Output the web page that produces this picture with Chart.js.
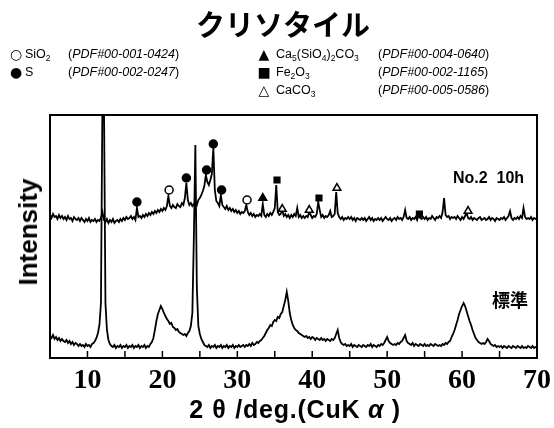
<!DOCTYPE html>
<html lang="ja">
<head>
<meta charset="utf-8">
<title>クリソタイル XRD</title>
<script src="https://cdn.jsdelivr.net/npm/chart.js@4.4.1/dist/chart.umd.min.js"></script>
<style>
    html, body { margin: 0; padding: 0; background: #fff; }
    #wrap { position: relative; width: 554px; height: 428px; overflow: hidden; color: #000;
            font-family: "Liberation Sans", Arial, sans-serif; }
    #xrdChart { position: absolute; left: 0; top: 0; }
    .abs { position: absolute; white-space: nowrap; line-height: 1; }
    #title { left: 6px; width: 554px; top: 9px; text-align: center; font-family: "Noto Sans CJK JP";
             font-weight: bold; font-size: 29px; }
    .leg { font-size: 12.5px; transform: translateY(-50%); }
    .sym { font-family: "DejaVu Sans"; font-size: 14px; transform: translate(-50%, -50%); }
    .leg sub { font-size: 8.5px; vertical-align: -3px; line-height: 0; }
    #yTitle { left: 28px; top: 232px; font-size: 26px; font-weight: bold;
              transform: translate(-50%, -50%) rotate(-90deg); }
    #xTitle { left: 0; width: 590px; top: 397px; text-align: center; font-size: 25px; font-weight: bold;
              letter-spacing: 0.8px; }
    #xTitle .g { display: inline-block; width: 1.25em; text-align: center; }
    #lblNo2 { left: 453px; top: 170px; font-size: 16px; font-weight: bold; }
    #lblStd { left: 492px; top: 290px; font-size: 18px; font-weight: bold; font-family: "Noto Sans CJK JP"; }
</style>
</head>
<body>
<div id="wrap">
    <canvas id="xrdChart" width="554" height="428"></canvas>

    <div id="title" class="abs">クリソタイル</div>

    <!-- legend, left column -->
    <div class="abs sym" style="left:16px; top:54px;">○</div>
    <div class="abs leg" style="left:25px; top:54px;">SiO<sub>2</sub></div>
    <div class="abs leg" style="left:68px; top:54px;">(<i>PDF#00-001-0424</i>)</div>
    <div class="abs sym" style="left:16px; top:72px;">●</div>
    <div class="abs leg" style="left:25px; top:72px;">S</div>
    <div class="abs leg" style="left:68px; top:72px;">(<i>PDF#00-002-0247</i>)</div>

    <!-- legend, right column -->
    <div class="abs sym" style="left:264px; top:54px;">▲</div>
    <div class="abs leg" style="left:276px; top:54px;">Ca<sub>5</sub>(SiO<sub>4</sub>)<sub>2</sub>CO<sub>3</sub></div>
    <div class="abs leg" style="left:378px; top:54px;">(<i>PDF#00-004-0640</i>)</div>
    <div class="abs sym" style="left:264px; top:72px;">■</div>
    <div class="abs leg" style="left:276px; top:72px;">Fe<sub>2</sub>O<sub>3</sub></div>
    <div class="abs leg" style="left:378px; top:72px;">(<i>PDF#00-002-1165</i>)</div>
    <div class="abs sym" style="left:264px; top:90px;">△</div>
    <div class="abs leg" style="left:276px; top:90px;">CaCO<sub>3</sub></div>
    <div class="abs leg" style="left:378px; top:90px;">(<i>PDF#00-005-0586</i>)</div>

    <div id="lblNo2" class="abs">No.2&nbsp;&nbsp;10h</div>
    <div id="lblStd" class="abs">標準</div>

    <div id="yTitle" class="abs">Intensity</div>
    <div id="xTitle" class="abs">2<span class="g">θ</span>/deg.(CuK<span class="g"><i>α</i></span>)</div>
</div>

<script>
// 2theta grid: 5.0 .. 70.0 deg, 0.2 deg step
const THETA_START = 5;
const THETA_STEP = 0.2;

// No.2 10h (upper pattern), one row = 2 deg
const intensityNo2 = [
    143,140,144,141,142,139,143,140,142,139,
    141,138,142,139,140,137,141,139,138,140,
    137,140,138,136,139,137,140,136,138,137,
    139,136,138,137,140,146,138,136,139,135,
    138,136,139,135,137,138,136,139,137,140,
    138,141,139,140,142,139,141,138,150,141,
    142,140,143,141,144,142,145,143,146,144,
    147,145,148,146,149,147,150,148,152,162,
    152,150,153,151,150,154,152,151,155,153,
    160,175,158,153,155,152,154,156,153,158,
    160,163,167,172,183,176,173,178,184,210,
    168,157,155,152,163,153,151,149,152,148,
    150,147,149,146,148,145,147,144,146,145,
    147,153,146,143,145,142,144,141,143,142,
    144,142,154,143,141,144,142,145,143,146,
    150,173,146,143,144,148,142,144,141,143,
    140,143,141,144,142,150,141,143,140,142,
    140,142,141,146,143,140,142,141,144,156,
    148,141,143,140,142,141,143,147,141,142,
    144,166,145,141,139,141,138,140,139,141,
    139,141,138,140,137,140,139,138,140,138,
    140,137,139,141,138,140,137,139,138,140,
    138,140,137,139,141,139,138,140,137,139,
    140,138,141,139,140,138,141,148,140,139,
    141,138,140,139,141,138,143,140,139,141,
    139,141,138,140,139,142,140,138,141,140,
    142,140,146,160,143,141,142,139,141,140,
    141,139,142,140,138,141,139,142,145,140,
    139,141,138,140,139,138,140,141,138,139,
    140,138,139,141,138,140,139,137,140,139,
    138,140,139,141,138,140,142,147,140,138,
    140,139,141,139,142,140,150,141,139,140,
    139,141,138,140,139,140
];

// 標準 (lower pattern)
const intensityStd = [
    22,20,23,19,21,18,20,17,19,17,
    16,18,15,17,14,16,13,15,14,12,
    14,12,13,11,14,12,13,11,14,15,
    17,20,25,33,55,260,260,55,28,18,
    14,12,11,13,10,12,11,13,10,12,
    11,13,10,12,11,13,10,12,11,13,
    10,12,11,13,10,12,11,14,16,20,
    28,37,44,48,52,49,45,42,39,37,
    34,35,31,30,28,29,26,25,24,23,
    24,22,25,27,32,45,120,213,70,32,
    24,19,16,13,12,11,13,10,12,11,
    13,10,12,11,13,10,12,11,13,10,
    12,11,13,10,12,11,13,11,12,13,
    11,13,12,14,12,15,13,14,16,15,
    17,18,20,22,25,28,30,33,32,36,
    38,37,41,40,44,46,52,58,66,57,
    45,38,33,30,28,27,25,24,23,22,
    21,22,20,21,19,21,20,18,20,19,
    18,20,18,19,17,19,18,17,19,18,
    20,24,28,20,16,14,13,14,12,13,
    12,14,11,13,12,11,13,12,11,13,
    12,11,13,12,14,11,13,12,11,13,
    12,14,13,15,18,21,17,15,14,13,
    14,13,15,14,16,17,20,23,17,15,
    14,13,15,12,14,13,12,14,13,12,
    14,12,13,12,14,13,12,14,13,12,
    13,12,14,13,15,14,16,17,21,24,
    28,33,38,44,48,52,55,52,47,42,
    37,33,28,24,20,18,16,15,14,15,
    14,16,19,17,14,13,12,13,11,12,
    11,12,10,12,11,10,12,11,10,12,
    11,10,12,11,10,12,10,11,10,12,
    11,10,12,10,11,10
];

// phase marks on the upper pattern: [2theta, height]
const marksSiO2 = [[20.9, 168], [31.3, 158]];
const marksS = [[16.6, 156], [23.2, 180], [25.9, 188], [26.8, 214], [27.9, 168]];
const marksCaSiCO3 = [[33.4, 160]];
const marksFe2O3 = [[35.3, 178], [40.9, 160], [54.3, 144]];
const marksCaCO3 = [[36.0, 149], [39.6, 148], [43.3, 170], [60.8, 147]];

const X_MIN = 5;
const X_MAX = 70;
const Y_MAX = 243;

document.addEventListener("DOMContentLoaded", function () {
    const ctx = document.getElementById("xrdChart").getContext('2d');

    const twoTheta = intensityNo2.map((_, i) => +(THETA_START + i * THETA_STEP).toFixed(1));
    const toPoints = arr => arr.map((y, i) => ({ x: twoTheta[i], y: y }));
    const toMarks = arr => arr.map(p => ({ x: p[0], y: p[1] }));

    function patternSet(values) {
        return {
            type: 'line',
            data: toPoints(values),
            borderColor: '#000',
            borderWidth: 1.8,
            pointRadius: 0,
            tension: 0,
            order: 1
        };
    }

    function markSet(points, style, filled, radius) {
        return {
            type: 'scatter',
            data: toMarks(points),
            pointStyle: style,
            pointRadius: radius,
            backgroundColor: filled ? '#000' : '#fff',
            borderColor: '#000',
            borderWidth: 1.5,
            order: 0
        };
    }

    // frame around the plot + inward tick marks every 5 deg
    const framePlugin = {
        id: 'frame',
        afterDraw(chart) {
            const c = chart.ctx;
            const a = chart.chartArea;
            const x = chart.scales.x;
            c.save();
            c.strokeStyle = '#000';
            c.lineWidth = 2;
            c.strokeRect(a.left, a.top, a.right - a.left, a.bottom - a.top);
            c.lineWidth = 1.5;
            x.ticks.forEach(t => {
                const px = x.getPixelForValue(t.value);
                if (px <= a.left + 1 || px >= a.right - 1) return;
                c.beginPath();
                c.moveTo(px, a.bottom);
                c.lineTo(px, a.bottom - 7);
                c.stroke();
            });
            c.restore();
        }
    };

    new Chart(ctx, {
        data: {
            datasets: [
                markSet(marksSiO2, 'circle', false, 4),
                markSet(marksS, 'circle', true, 4),
                markSet(marksCaSiCO3, 'triangle', true, 4.5),
                markSet(marksFe2O3, 'rect', true, 4),
                markSet(marksCaCO3, 'triangle', false, 4.5),
                patternSet(intensityNo2),
                patternSet(intensityStd)
            ]
        },
        options: {
            responsive: false,
            animation: false,
            devicePixelRatio: 1,
            layout: { padding: { left: 50, top: 115, right: 17, bottom: 0 } },
            plugins: {
                legend: { display: false },
                tooltip: { enabled: false }
            },
            scales: {
                x: {
                    type: 'linear',
                    min: X_MIN,
                    max: X_MAX,
                    grid: { display: false, drawTicks: false },
                    border: { display: false },
                    ticks: {
                        stepSize: 5,
                        autoSkip: false,
                        maxRotation: 0,
                        padding: 6,
                        color: '#000',
                        font: { family: '"Liberation Serif", "Times New Roman", serif', size: 28, weight: 'bold' },
                        callback: v => (v % 10 === 0 ? v : '')
                    },
                    afterFit: s => {
                        s.height = 70;
                        s.paddingLeft = 0;
                        s.paddingRight = 0;
                    }
                },
                y: { display: false, min: 0, max: Y_MAX }
            }
        },
        plugins: [framePlugin]
    });
});
</script>
</body>
</html>
